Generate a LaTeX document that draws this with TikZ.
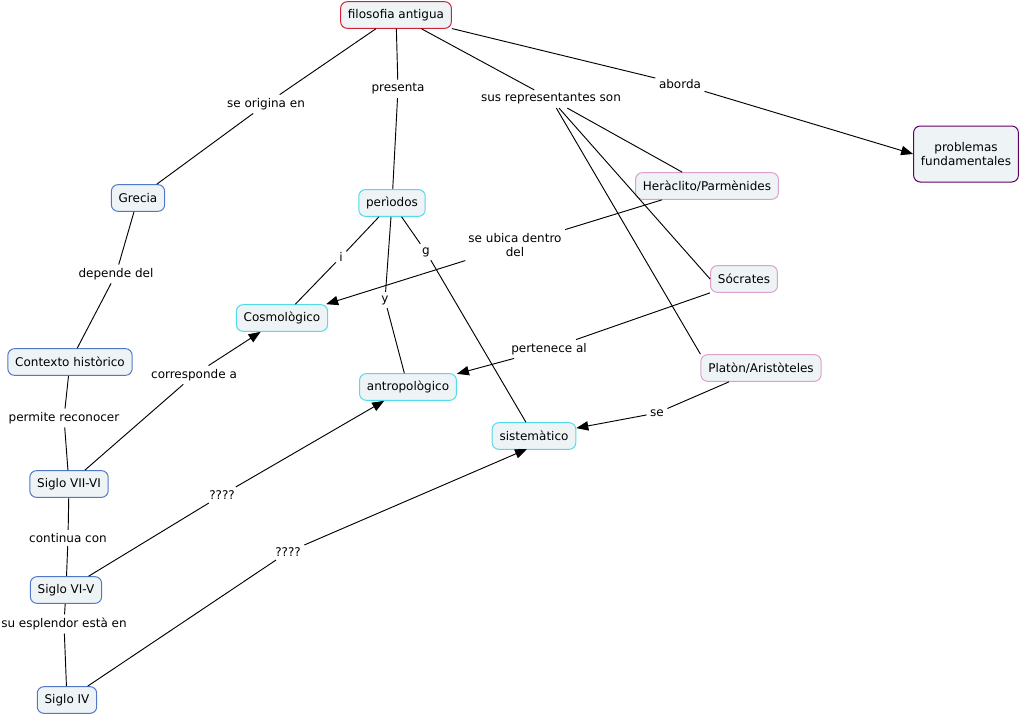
\documentclass[tikz,border=0pt]{standalone}
\usepackage{fontspec}
\setmainfont{DejaVu Sans}
\usetikzlibrary{arrows.meta}
\definecolor{nodefill}{RGB}{238,243,246}
\definecolor{cred}{RGB}{204,34,51}
\definecolor{cblue}{RGB}{80,120,200}
\definecolor{ccyan}{RGB}{80,220,235}
\definecolor{cpink}{RGB}{220,160,205}
\definecolor{cpurple}{RGB}{100,0,100}
\tikzset{
  concept/.style={draw, fill=nodefill, rounded corners=5pt, line width=0.75pt,
    font=\fontsize{9pt}{11pt}\selectfont, inner xsep=5.5pt, inner ysep=2pt,
    minimum height=20pt, align=center},
  redc/.style={concept, draw=cred},
  bluec/.style={concept, draw=cblue},
  cyanc/.style={concept, draw=ccyan},
  pinkc/.style={concept, draw=cpink},
  purplec/.style={concept, draw=cpurple},
  lbl/.style={font=\fontsize{9pt}{11pt}\selectfont, inner sep=2.5pt, align=center},
  conn/.style={line width=0.7pt, black},
  arr/.style={conn, -{Triangle[length=9pt,width=7pt]}}
}
\begin{document}
\begin{tikzpicture}[x=0.75pt,y=-0.75pt]
\useasboundingbox (0,0) rectangle (1021,717);
% concepts
\node[redc] (fa) at (396,15) {filosofia antigua};
\node[purplec, minimum width=78pt, minimum height=42pt] (prob) at (966,154) {problemas\\fundamentales};
\node[bluec] (gre) at (138,198) {Grecia};
\node[cyanc] (per) at (392,203) {perìodos};
\node[pinkc] (her) at (707,186) {Heràclito/Parmènides};
\node[cyanc] (cos) at (282,318) {Cosmològico};
\node[pinkc] (soc) at (744,279) {Sócrates};
\node[bluec] (ctx) at (70,362) {Contexto històrico};
\node[cyanc] (ant) at (408,387) {antropològico};
\node[pinkc] (pla) at (761,368) {Platòn/Aristòteles};
\node[cyanc] (sis) at (534,436) {sistemàtico};
\node[bluec] (s76) at (69,484) {Siglo VII-VI};
\node[bluec] (s65) at (66,590) {Siglo VI-V};
\node[bluec] (s4) at (67,700) {Siglo IV};
% linking phrases
\node[lbl] (l1) at (266,104) {se origina en};
\node[lbl] (l2) at (398,89) {presenta};
\node[lbl] (l3) at (551,99) {sus representantes son};
\node[lbl] (l4) at (680,84) {aborda};
\node[lbl] (l5) at (116,274) {depende del};
\node[lbl] (l6) at (341,257) {i};
\node[lbl] (l7) at (385,300) {y};
\node[lbl] (l8) at (426,252) {g};
\node[lbl] (l9) at (515,245) {se ubica dentro\\del};
\node[lbl] (l10) at (549,349) {pertenece al};
\node[lbl] (l11) at (657,413) {se};
\node[lbl] (l12) at (194,375) {corresponde a};
\node[lbl] (l13) at (64,418) {permite reconocer};
\node[lbl] (l14) at (222,495) {????};
\node[lbl] (l15) at (68,538) {continua con};
\node[lbl] (l16) at (288,552) {????};
\node[lbl] (l17) at (64,624) {su esplendor està en};
\coordinate (sisb) at (527,449);
% connectors
\draw[conn] (fa) -- (l1);
\draw[conn] (l1) -- (gre);
\draw[conn] (fa) -- (l2);
\draw[conn] (l2) -- (per);
\draw[conn] (fa) -- (l3);
\draw[conn] (l3) -- (her);
\draw[conn] (l3) -- (soc.west);
\draw[conn] (l3) -- (pla.north west);
\draw[conn] (fa) -- (l4);
\draw[arr] (l4) -- (prob.west);
\draw[conn] (gre) -- (l5);
\draw[conn] (l5) -- (ctx);
\draw[conn] (per) -- (l6);
\draw[conn] (l6) -- (cos);
\draw[conn] (per) -- (l7);
\draw[conn] (l7) -- (ant);
\draw[conn] (per) -- (l8);
\draw[conn] (l8) -- (sis);
\draw[conn] (her) -- (l9);
\draw[arr] (l9) -- (cos);
\draw[conn] (soc.south west) -- (l10);
\draw[arr] (l10) -- (ant);
\draw[conn] (pla) -- (l11);
\draw[arr] (l11) -- (sis);
\draw[conn] (ctx) -- (l13);
\draw[conn] (l13) -- (s76);
\draw[conn] (s76) -- (l12);
\draw[arr] (l12) -- (cos);
\draw[conn] (s76) -- (l15);
\draw[conn] (l15) -- (s65);
\draw[conn] (s65) -- (l14);
\draw[arr] (l14) -- (ant);
\draw[conn] (s65) -- (l17);
\draw[conn] (l17) -- (s4);
\draw[conn] (s4) -- (l16);
\draw[arr] (l16) -- (sisb);
\end{tikzpicture}
\end{document}
